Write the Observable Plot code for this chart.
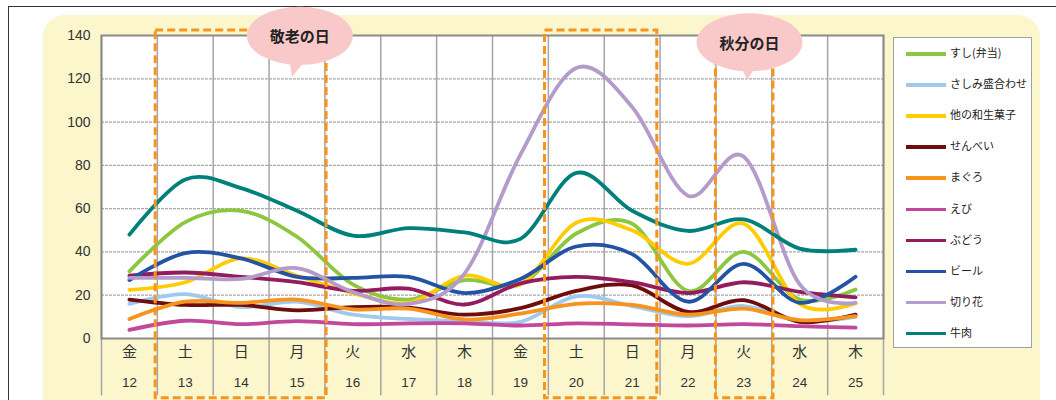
<!DOCTYPE html>
<html><head><meta charset="utf-8">
<script src="https://cdn.jsdelivr.net/npm/d3@7"></script>
<script src="https://cdn.jsdelivr.net/npm/@observablehq/plot@0.6"></script>
<style>
body{margin:0;background:#fff;font-family:"Liberation Sans","Noto Sans CJK JP",sans-serif;}
#wrap{position:relative;width:1056px;height:400px;overflow:hidden;}
#outer{position:absolute;left:8px;top:6px;width:1100px;height:500px;border-top:1px solid #333;border-left:1px solid #333;}
#panel{position:absolute;left:43px;top:15px;width:997px;height:440px;background:#fbf6cc;border-radius:22px;}
#chart{position:absolute;left:0;top:0;}
#legend{position:absolute;left:893px;top:37px;width:137px;height:309px;background:#fff;border:1px solid #a0a0a0;font-family:"Noto Sans CJK JP",sans-serif;font-size:11px;color:#222;}
.li{position:absolute;left:0;height:14px;width:137px;}
.li .sw{position:absolute;left:12px;top:6px;width:40px;height:3.5px;}
.li .tx{position:absolute;left:56px;top:-2px;white-space:nowrap;}
</style></head>
<body>
<div id="wrap"><div id="outer"></div><div id="panel"></div><div id="chart"></div><div id="legend"></div></div>
<script>
const dates = [12,13,14,15,16,17,18,19,20,21,22,23,24,25];
const weekdays = ["金","土","日","月","火","水","木","金","土","日","月","火","水","木"];
const yTicks = [0,20,40,60,80,100,120,140];
const seriesNames = ["すし(弁当)","さしみ盛合わせ","他の和生菓子","せんべい","まぐろ","えび","ぶどう","ビール","切り花","牛肉"];
const seriesColors = ["#8dc63f","#9fcaed","#ffcc00","#6e0d0d","#f7941d","#c2489b","#921c5e","#2553a3","#b49bcb","#00807b"];
const sushi    = [31, 53.8, 59, 47, 25, 18, 27, 25, 48.5, 53, 22, 40, 18, 22.6];
const sashimi  = [16, 20.5, 14.5, 17, 11, 9, 8, 7.7, 19.5, 15, 10.3, 15, 8, 10];
const wagashi  = [22.5, 26, 37, 29, 21, 16.5, 29, 25, 53.5, 50, 34.5, 53, 16, 16.3];
const senbei   = [18, 15.5, 15.5, 13, 14.5, 14.3, 11, 14, 22, 24.5, 12.3, 17.7, 7.7, 11];
const maguro   = [9, 17, 16.5, 18, 13.5, 13.8, 8.8, 11.5, 16, 15.5, 11, 13.8, 8.5, 10.3];
const ebi      = [4, 8.2, 6.6, 8, 6.6, 7, 7, 6, 7, 6.5, 6, 6.6, 5.7, 5];
const budou    = [29, 30.5, 28.5, 26, 22, 23, 15.7, 25.5, 28.5, 26, 21, 26, 21.5, 19];
const beer     = [27, 39.5, 37, 28.5, 28, 28.5, 21, 27.5, 42.5, 39, 17, 34.5, 16.5, 28.5];
const kiribana = [28, 28, 27.5, 32.5, 21.5, 16, 30, 85, 125, 107, 66, 84, 25, 16.5];
const gyuniku  = [48, 73.5, 69.5, 59, 47.5, 51, 49, 46, 76.5, 59, 49.7, 55, 41.5, 41];
const seriesValues = [sushi, sashimi, wagashi, senbei, maguro, ebi, budou, beer, kiribana, gyuniku];
const holidayBoxes = [{x1:12.47,x2:15.53},{x1:19.44,x2:21.45},{x1:22.5,x2:23.53}];
const holidayLabels = [{name:"敬老の日", x:15.06, y:139.6, tipX:14.92, tipY:120.6},
                       {name:"秋分の日", x:23.11, y:136.6, tipX:23.07, tipY:119.2}];
const columnEdges = d3.range(11.5, 26, 1);

const data = [];
seriesNames.forEach((s,i)=> dates.forEach((d,j)=> data.push({series:s, date:d, value:seriesValues[i][j]})));

const plot = Plot.plot({
  width:1056, height:400,
  marginLeft:101, marginRight:173, marginTop:35, marginBottom:62,
  style:{background:"transparent", fontFamily:"'Liberation Sans','Noto Sans CJK JP',sans-serif", color:"#333"},
  x:{domain:[11.5,25.5], axis:null},
  y:{domain:[0,140], axis:null},
  color:{domain:seriesNames, range:seriesColors},
  marks:[
    Plot.frame({fill:"white", stroke:null}),
    Plot.ruleY(yTicks.slice(1,-1), {stroke:"#a8a8a8", strokeWidth:1.3, strokeDasharray:"3,1"}),
    Plot.ruleX(columnEdges, {y1:-26.5, y2:140, stroke:"#a5a5a5", strokeWidth:1.5, clip:false}),
    Plot.line(data, {x:"date", y:"value", z:"series", stroke:"series", curve:"cardinal", strokeWidth:3.8, strokeLinecap:"round"}),
    Plot.frame({stroke:"#8a8a8a", strokeWidth:2}),
    Plot.axisY({ticks:yTicks, tickSize:0, tickPadding:11, fontSize:14, color:"#333", label:null}),
    Plot.axisX({ticks:dates, tickSize:0, tickPadding:8, fontSize:15, label:null, tickFormat:d=>weekdays[d-12], fontFamily:"'Noto Sans CJK JP',sans-serif"}),
    Plot.axisX({ticks:dates, tickSize:0, tickPadding:39, fontSize:13.5, label:null, tickFormat:d=>String(d)}),
    Plot.rect(holidayBoxes, {x1:"x1", x2:"x2", y1:-27.6, y2:142.3, fill:"none", stroke:"#f7941d", strokeWidth:3, strokeDasharray:"8,4", clip:false})
  ]
});
document.getElementById("chart").appendChild(plot);

// speech-bubble annotations placed with the plot's own scales
const sx = plot.scale("x"), sy = plot.scale("y");
const svg = d3.select(plot);
holidayLabels.forEach(h=>{
  const cx = sx.apply(h.x), cy = sy.apply(h.y), tx = sx.apply(h.tipX), ty = sy.apply(h.tipY);
  const g = svg.append("g");
  g.append("path").attr("d", `M${cx-11},${cy+20} L${tx},${ty} L${cx+9},${cy+20} Z`).attr("fill","#f9c9c9");
  g.append("ellipse").attr("cx",cx).attr("cy",cy).attr("rx",53).attr("ry",29).attr("fill","#f9c9c9");
  g.append("text").attr("x",cx).attr("y",cy).attr("text-anchor","middle").attr("dominant-baseline","central")
    .attr("font-family","'Noto Sans CJK JP',sans-serif").attr("font-weight","bold").attr("font-size",15).attr("fill","#222").text(h.name);
});

// legend
const leg = document.getElementById("legend");
seriesNames.forEach((s,i)=>{
  const row = document.createElement("div");
  row.className = "li";
  row.style.top = (8 + i*31.1) + "px";
  row.innerHTML = `<div class="sw" style="background:${seriesColors[i]}"></div><div class="tx">${s}</div>`;
  leg.appendChild(row);
});
</script>
</body></html>
